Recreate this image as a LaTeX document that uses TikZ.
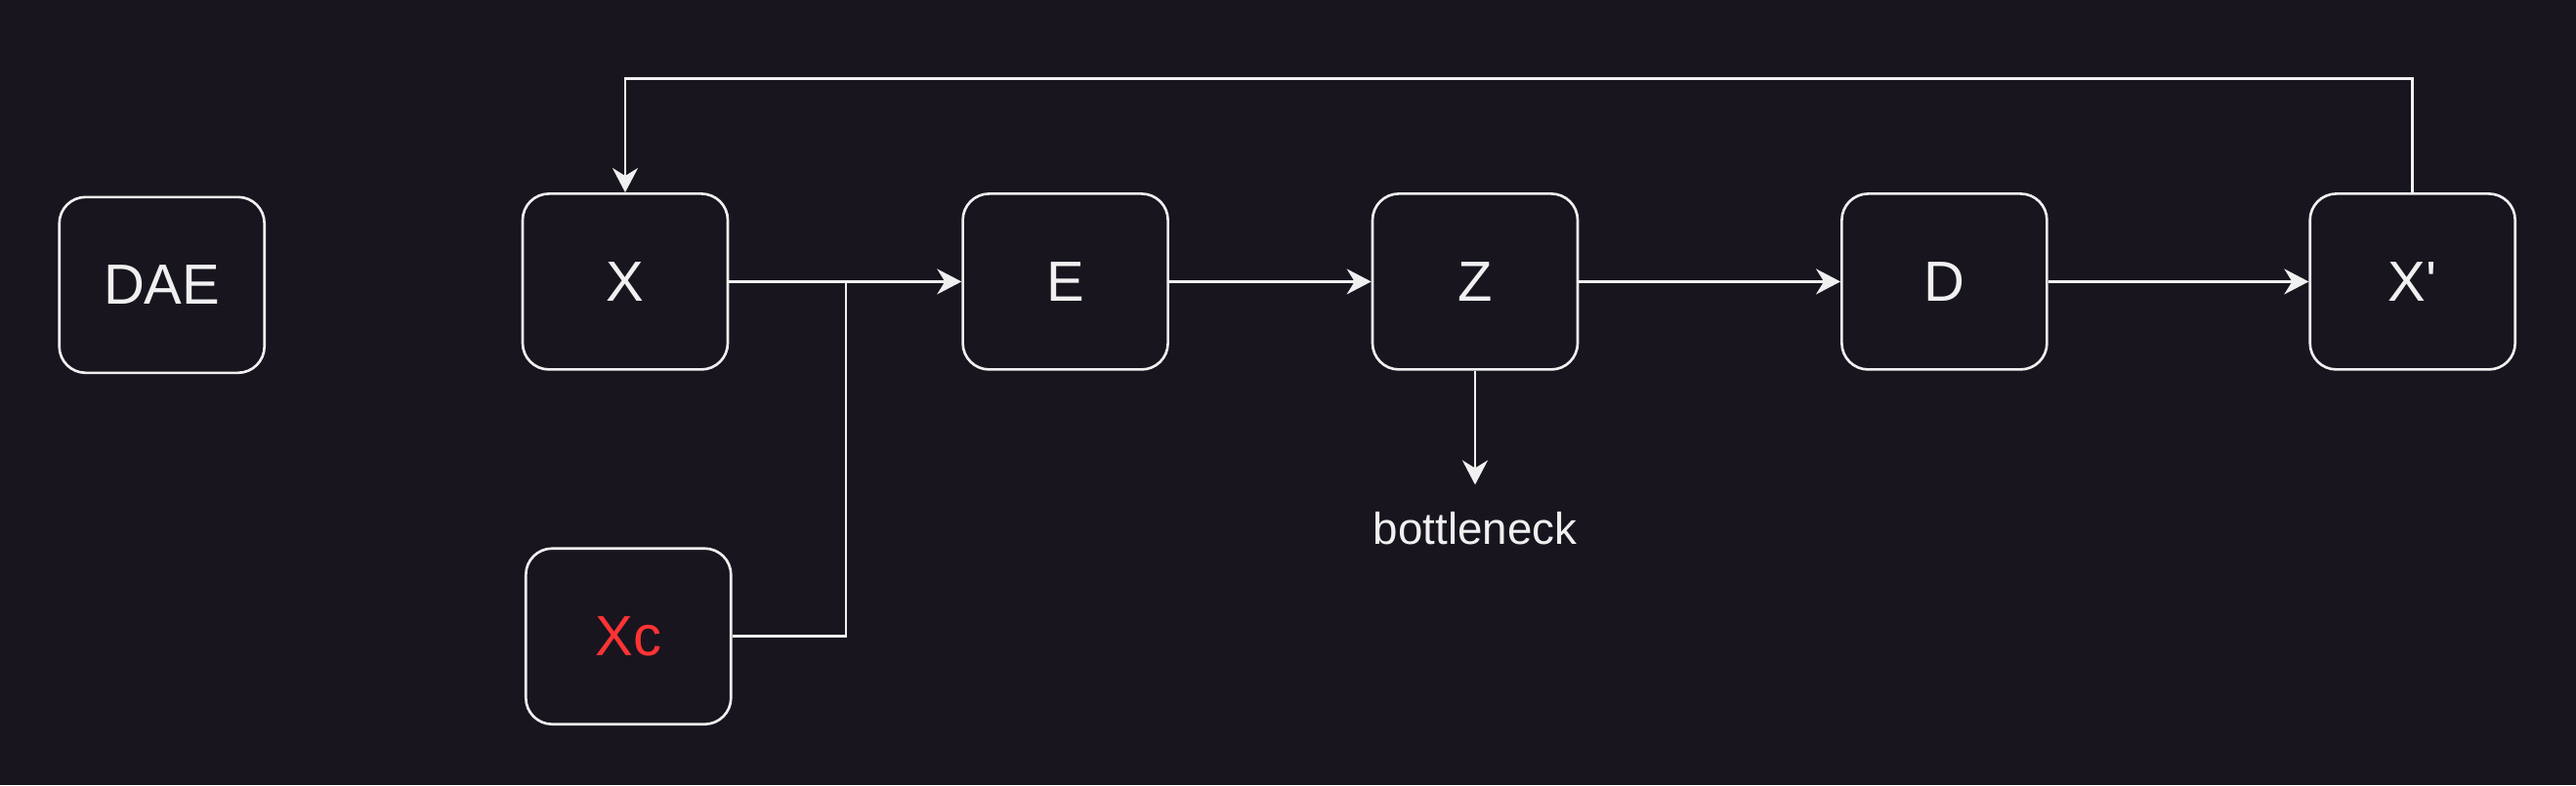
\documentclass[tikz,border=0pt]{standalone}
\usepackage{fontspec}
\setmainfont{Liberation Sans}
\usepackage{xcolor}
\usepackage{tikz}
\usetikzlibrary{arrows.meta}
\definecolor{bgdark}{HTML}{18151F}
\definecolor{linewhite}{HTML}{F0F0F0}
\definecolor{condred}{HTML}{FF3333}

\begin{document}
\begin{tikzpicture}[line width=0.75pt]
\tikzstyle{every node}=[text=linewhite]
\tikzstyle{block}=[draw=linewhite,rounded corners=0.27cm,minimum width=2.1cm,minimum height=1.8cm,inner sep=0pt,font=\fontsize{16.5}{18}\selectfont]
\tikzstyle{flow}=[draw=linewhite,-{Stealth[length=0.25cm,width=0.26cm,inset=0.08cm]}]
\fill[bgdark] (0,0) rectangle (26.37,-8.04);
\useasboundingbox (0,0) rectangle (26.37,-8.04);
\node[block] (dae) at (1.657,-2.918) {DAE};
\node[block] (x) at (6.40,-2.884) {X};
\node[block,text=condred] (xc) at (6.433,-6.517) {Xc};
\node[block] (e) at (10.906,-2.884) {E};
\node[block] (z) at (15.10,-2.884) {Z};
\node[block] (d) at (19.904,-2.884) {D};
\node[block] (xp) at (24.697,-2.884) {X\textquotesingle};
\node[inner sep=0.27cm,font=\fontsize{13}{15}\selectfont] (bn) at (15.10,-5.415) {bottleneck};
\coordinate (join) at (8.66,-2.884);
\coordinate (fb) at (24.697,-0.807);
\draw[flow] (x) -- (e);
\draw[draw=linewhite] (xc.east) -| (join);
\draw[flow] (e) -- (z);
\draw[flow] (z) -- (d);
\draw[flow] (d) -- (xp);
\draw[flow] (z.south) -- (bn.north);
\draw[flow] (xp.north) -- (fb) -| (x.north);
\end{tikzpicture}
\end{document}
